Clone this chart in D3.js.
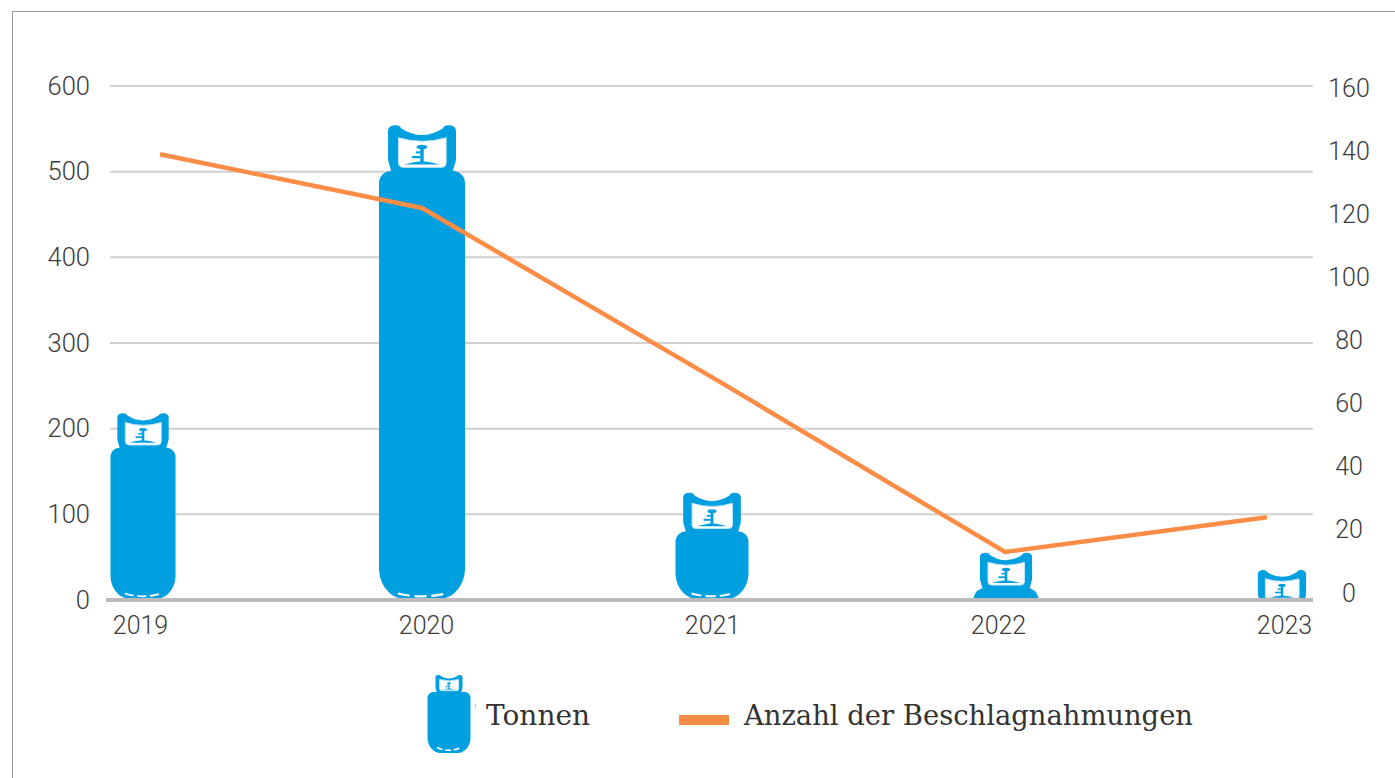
<!DOCTYPE html>
<html>
<head>
<meta charset="utf-8">
<script src="https://cdn.jsdelivr.net/npm/d3@7"></script>
<style>
  html, body { margin: 0; padding: 0; background: #fff; }
  svg { display: block; }
  .axis text { font-family: Roboto, sans-serif; font-weight: 300; fill: #3c3c3c; }
  .axis .domain { display: none; }
</style>
</head>
<body>
<script>
// data
var years = ["2019", "2020", "2021", "2022", "2023"];
var tonnen = [218, 554, 125, 55, 35];
var beschlagnahmungen = [139, 122, 68, 13, 24];
var leftTicks = [0, 100, 200, 300, 400, 500, 600];
var rightTicks = [0, 20, 40, 60, 80, 100, 120, 140, 160];
var legendTonnen = "Tonnen";
var legendLinie = "Anzahl der Beschlagnahmungen";

// layout: the original is hand placed, so marks sit a bit off the year labels
var iconWidth = [65, 86, 73, 66, 61];
var iconNudge = [3, -4, 0, 8, -2];
var lineNudge = [20, -4, 2, 7, -17];

var blue = "#009fe0";
var orange = "#fd8d46";

var w = 1395, h = 778;

var svg = d3.select("body").append("svg")
  .attr("width", w)
  .attr("height", h);

var x = d3.scalePoint().domain(years).range([140, 1284]);
var yLeft = d3.scaleLinear().domain([0, 600]).range([600, 86]);
var yRight = d3.scaleLinear().domain([0, 160]).range([593, 88]);

// frame
svg.append("path")
  .attr("d", d3.line()([[12.5, h], [12.5, 11.5], [w, 11.5]]))
  .attr("fill", "none")
  .attr("stroke", "#999")
  .attr("stroke-width", 1);

// left axis + grid
var gLeft = svg.append("g")
  .attr("class", "axis")
  .attr("transform", "translate(110,0)")
  .call(d3.axisLeft(yLeft).tickValues(leftTicks).tickSize(0).tickPadding(20));
gLeft.selectAll("text").style("font-size", "25.5px");

svg.append("g").selectAll("line")
  .data(leftTicks.filter(function (d) { return d > 0; }))
  .enter().append("line")
  .attr("x1", 110)
  .attr("x2", 1313)
  .attr("y1", function (d) { return yLeft(d); })
  .attr("y2", function (d) { return yLeft(d); })
  .attr("stroke", "#d0d0d0")
  .attr("stroke-width", 2);

// right axis
var gRight = svg.append("g")
  .attr("class", "axis")
  .attr("transform", "translate(1349,0)")
  .call(d3.axisRight(yRight).tickValues(rightTicks).tickSize(0).tickPadding(0));
gRight.selectAll("text")
  .attr("text-anchor", "middle")
  .style("font-size", "25px");

// x axis labels
var gBottom = svg.append("g")
  .attr("class", "axis")
  .attr("transform", "translate(0,600)")
  .call(d3.axisBottom(x).tickSize(0).tickPadding(16));
gBottom.selectAll("text").style("font-size", "25px");

// gas bottle, (0,0) = top middle of the cap, H = y of the foot
function drawBottle(g, W, H, cw, ch) {
  var path = d3.path();
  var l = -cw / 2, r0 = cw / 2;
  // cap outline with the two knobs and the sagging handle
  path.moveTo(l, 0.12 * ch);
  path.bezierCurveTo(l, -0.03 * ch, l + 0.18 * cw, -0.03 * ch, l + 0.19 * cw, 0.06 * ch);
  path.quadraticCurveTo(0, 0.36 * ch, r0 - 0.19 * cw, 0.06 * ch);
  path.bezierCurveTo(r0 - 0.18 * cw, -0.03 * ch, r0, -0.03 * ch, r0, 0.12 * ch);
  path.lineTo(r0, 0.76 * ch);
  path.lineTo(r0 - 0.05 * cw, ch + 1);
  path.lineTo(l + 0.05 * cw, ch + 1);
  path.lineTo(l, 0.76 * ch);
  path.closePath();
  g.append("path").attr("d", path.toString()).attr("fill", blue);

  // body
  var top = ch, bodyH = H - ch;
  var k = 0.45;
  var rt = Math.min(0.14 * W, bodyH), rbx = 0.3 * W, rby = 0.36 * W;
  var body = d3.path();
  if (bodyH > 30) {
    body.moveTo(-W / 2, top + rt);
    body.bezierCurveTo(-W / 2, top + rt * k, -W / 2 + rt * k, top, -W / 2 + rt, top);
    body.lineTo(W / 2 - rt, top);
    body.bezierCurveTo(W / 2 - rt * k, top, W / 2, top + rt * k, W / 2, top + rt);
    body.lineTo(W / 2, H - rby);
    body.bezierCurveTo(W / 2, H - rby * k, W / 2 - rbx * k, H, W / 2 - rbx, H);
    body.lineTo(-W / 2 + rbx, H);
    body.bezierCurveTo(-W / 2 + rbx * k, H, -W / 2, H - rby * k, -W / 2, H - rby);
  } else {
    // mostly cut off at the baseline
    body.moveTo(-W / 2, H);
    body.quadraticCurveTo(-W / 2 + 3, top, -W / 2 + rt + 4, top);
    body.lineTo(W / 2 - rt - 4, top);
    body.quadraticCurveTo(W / 2 - 3, top, W / 2, H);
  }
  body.closePath();
  g.append("path").attr("d", body.toString()).attr("fill", blue);

  // white dashes on the foot ring
  if (bodyH > 30) {
    g.append("path")
      .attr("d", d3.line().curve(d3.curveBasis)([
        [-W * 0.28, H - 5.5], [-W * 0.12, H - 2.6], [W * 0.12, H - 2.6], [W * 0.28, H - 5.5]
      ]))
      .attr("fill", "none")
      .attr("stroke", "#fff")
      .attr("stroke-width", Math.max(1.4, W * 0.026))
      .attr("stroke-dasharray", (W * 0.14) + " " + (W * 0.055));
  }

  // window in the cap
  var wl = -0.345 * cw, wr = 0.355 * cw, wt = 0.27 * ch, wb = 0.92 * ch, r = 0.07 * cw;
  var win = d3.path();
  win.moveTo(wl, wt);
  win.quadraticCurveTo(0, wt + 0.16 * ch, wr, wt);
  win.lineTo(wr, wb - r);
  win.quadraticCurveTo(wr, wb, wr - r, wb);
  win.lineTo(wl + r, wb);
  win.quadraticCurveTo(wl, wb, wl, wb - r);
  win.closePath();
  g.append("path").attr("d", win.toString())
    .attr("fill", "#fff")
    .attr("stroke", "#bfe6f7")
    .attr("stroke-width", 1);

  // valve inside the window
  g.append("ellipse")
    .attr("cx", 0).attr("cy", 0.475 * ch)
    .attr("rx", 0.08 * cw).attr("ry", 0.05 * ch)
    .attr("fill", blue);
  g.append("rect")
    .attr("x", -0.025 * cw).attr("y", 0.49 * ch)
    .attr("width", 0.05 * cw).attr("height", 0.34 * ch)
    .attr("fill", blue);
  g.append("rect")
    .attr("x", -0.09 * cw).attr("y", 0.57 * ch)
    .attr("width", 0.07 * cw).attr("height", 0.045 * ch)
    .attr("fill", blue);
  g.append("rect")
    .attr("x", -0.145 * cw).attr("y", 0.67 * ch)
    .attr("width", 0.125 * cw).attr("height", 0.05 * ch)
    .attr("fill", blue);
  g.append("path")
    .attr("d", d3.line().curve(d3.curveBasis)([
      [-0.26 * cw, 0.86 * ch], [-0.1 * cw, 0.79 * ch], [0.1 * cw, 0.79 * ch], [0.26 * cw, 0.86 * ch]
    ]))
    .attr("fill", blue);
}

// clip at the baseline, the small bottles run below it
svg.append("clipPath").attr("id", "plotclip")
  .append("rect").attr("x", 0).attr("y", 0).attr("width", w).attr("height", 599);

var bottles = svg.append("g").attr("clip-path", "url(#plotclip)");
years.forEach(function (year, i) {
  var W = iconWidth[i];
  var top = yLeft(tonnen[i]);
  var ch = 0.53 * W;
  var g = bottles.append("g")
    .attr("transform", "translate(" + (x(year) + iconNudge[i]) + "," + top + ")");
  drawBottle(g, W, yLeft(0) - top - 1, 0.79 * W, ch);
});

// baseline
svg.append("line")
  .attr("x1", 106)
  .attr("x2", 1313)
  .attr("y1", yLeft(0))
  .attr("y2", yLeft(0))
  .attr("stroke", "#bbb")
  .attr("stroke-width", 4);

// seizures line
var line = d3.line()
  .x(function (d, i) { return x(years[i]) + lineNudge[i]; })
  .y(function (d) { return yRight(d); });

svg.append("path")
  .datum(beschlagnahmungen)
  .attr("d", line)
  .attr("fill", "none")
  .attr("stroke", orange)
  .attr("stroke-width", 4.5);

// legend
var legendIcon = svg.append("g").attr("transform", "translate(449,675)");
drawBottle(legendIcon, 43, 78, 27, 17);

svg.append("line")
  .attr("x1", 475.5).attr("x2", 475.5)
  .attr("y1", 704).attr("y2", 709)
  .attr("stroke", "#ccc");

svg.append("text")
  .attr("x", 486)
  .attr("y", 725)
  .attr("textLength", 104)
  .attr("lengthAdjust", "spacingAndGlyphs")
  .attr("font-family", "'DejaVu Serif', serif")
  .attr("font-size", 28)
  .attr("fill", "#333")
  .text(legendTonnen);

svg.append("line")
  .attr("x1", 679)
  .attr("x2", 729)
  .attr("y1", 720)
  .attr("y2", 720)
  .attr("stroke", orange)
  .attr("stroke-width", 10);

svg.append("text")
  .attr("x", 744)
  .attr("y", 725)
  .attr("textLength", 449)
  .attr("lengthAdjust", "spacingAndGlyphs")
  .attr("font-family", "'DejaVu Serif', serif")
  .attr("font-size", 28)
  .attr("fill", "#333")
  .text(legendLinie);
</script>
</body>
</html>
